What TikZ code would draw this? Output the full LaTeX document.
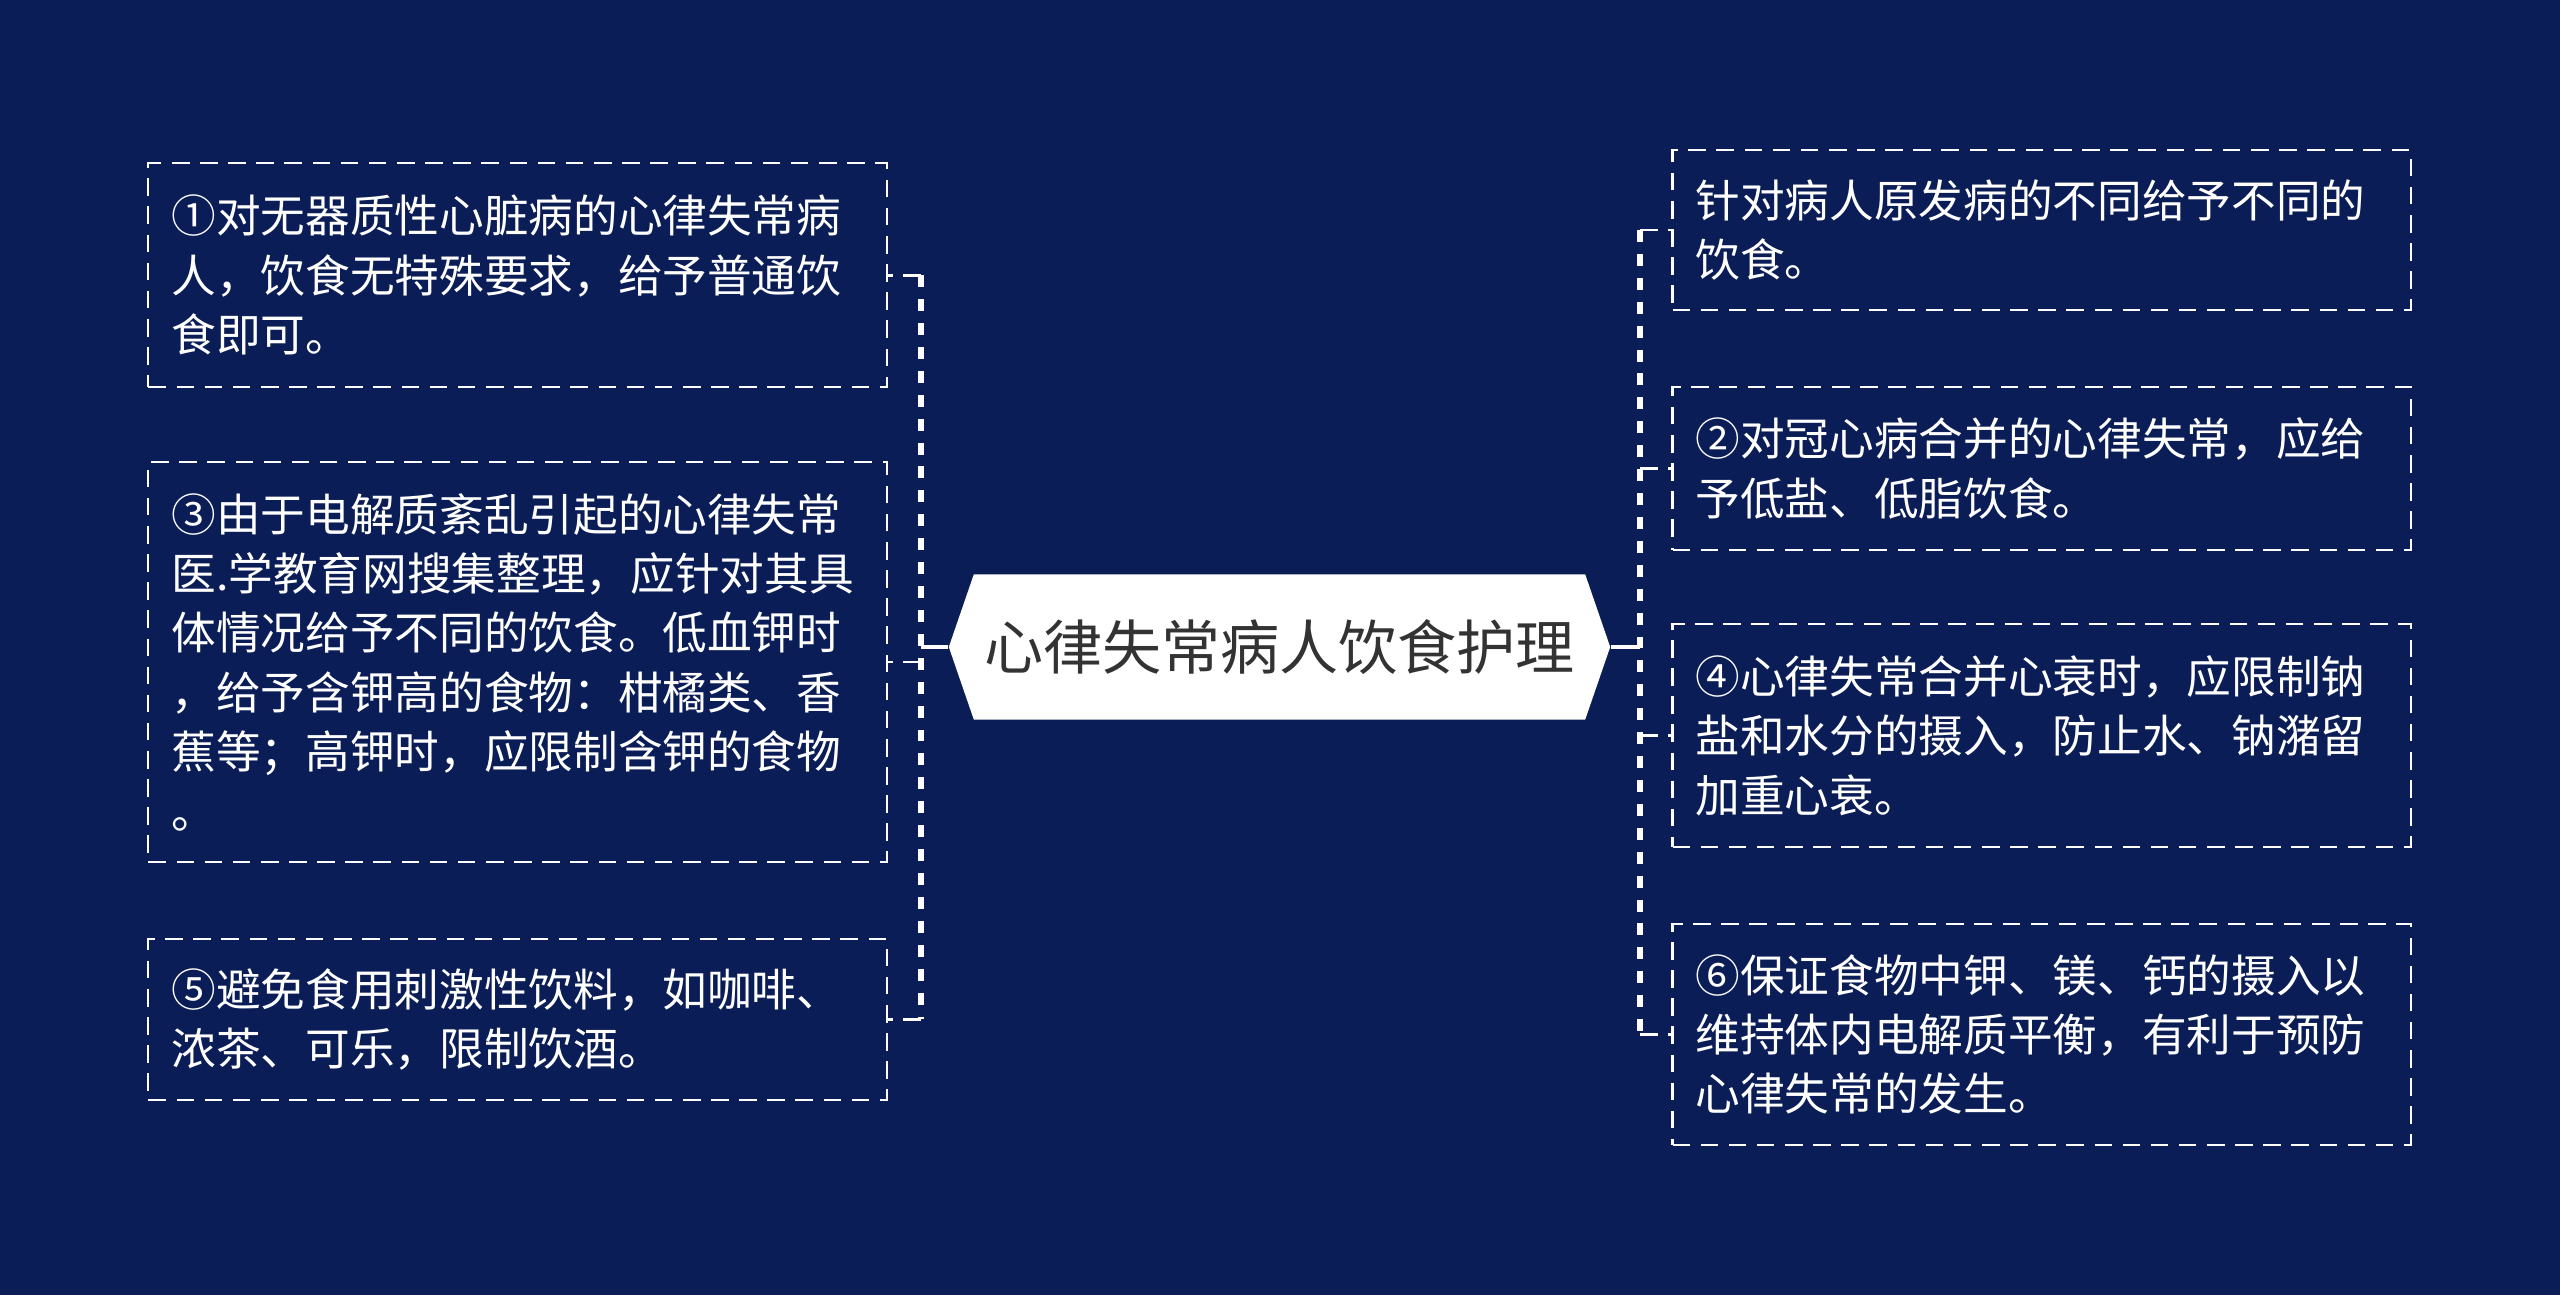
\documentclass[tikz,border=0pt]{standalone}
\usepackage{fontspec}
\setmainfont{Noto Sans CJK SC}
\usepackage{tikz}
\usetikzlibrary{shapes.symbols}

\definecolor{navy}{RGB}{11,29,86}
\definecolor{titlegray}{RGB}{51,51,51}

\tikzset{
  note/.style={draw=white, line width=0.6pt, dash pattern=on 5pt off 3pt,
    text=white, minimum width=7.38cm, text width=6.92cm, inner xsep=0.23cm,
    align=left, font=\fontsize{12.7}{16.9}\selectfont},
  hub/.style={shape=signal, signal to=east and west, signal pointer angle=142,
    fill=white, text=titlegray, minimum width=6.61cm, minimum height=1.45cm,
    inner sep=0pt, font=\fontsize{16.8}{20}\selectfont},
  trunk/.style={white, line width=1pt},
  bus/.style={white, line width=1.7pt, dash pattern=on 3.4pt off 3.4pt},
  twig/.style={white, line width=0.8pt, dash pattern=on 5pt off 3pt}
}

\begin{document}
\begin{tikzpicture}[x=0.01cm,y=-0.01cm]
% background
\fill[navy] (0,0) rectangle (2560,1295);
\useasboundingbox (0,0) rectangle (2560,1295);

% the title
\node[hub] (title) at (1279.5,647) {心律失常病人饮食护理};

% left notes
\node[note, minimum height=2.24cm] (b1) at (517.6,275.2)
  {①对无器质性心脏病的心律失常病\\人，饮食无特殊要求，给予普通饮\\食即可。};
\node[note, minimum height=4.0cm] (b3) at (517.6,662)
  {③由于电解质紊乱引起的心律失常\\医.学教育网搜集整理，应针对其具\\体情况给予不同的饮食。低血钾时\\，给予含钾高的食物：柑橘类、香\\蕉等；高钾时，应限制含钾的食物\\。};
\node[note, minimum height=1.61cm] (b5) at (517.6,1019.5)
  {⑤避免食用刺激性饮料，如咖啡、\\浓茶、可乐，限制饮酒。};

% right notes
\node[note, minimum height=1.6cm] (r1) at (2041.7,230)
  {针对病人原发病的不同给予不同的\\饮食。};
\node[note, minimum height=1.63cm] (r2) at (2041.7,468.5)
  {②对冠心病合并的心律失常，应给\\予低盐、低脂饮食。};
\node[note, minimum height=2.23cm] (r4) at (2041.7,735.5)
  {④心律失常合并心衰时，应限制钠\\盐和水分的摄入，防止水、钠潴留\\加重心衰。};
\node[note, minimum height=2.21cm] (r6) at (2041.7,1034.5)
  {⑥保证食物中钾、镁、钙的摄入以\\维持体内电解质平衡，有利于预防\\心律失常的发生。};

% left branch
\coordinate (lbus) at (921,647);
\draw[trunk] (title.west) -- (lbus);
\draw[bus] (lbus |- b1.east) -- (lbus |- b5.east);
\foreach \n in {b1,b3,b5}
  \draw[twig] (lbus |- \n.east) -- (\n.east);

% right branch
\coordinate (rbus) at (1640,647);
\draw[trunk] (title.east) -- (rbus);
\draw[bus] (rbus |- r1.west) -- (rbus |- r6.west);
\foreach \n in {r1,r2,r4,r6}
  \draw[twig] (rbus |- \n.west) -- (\n.west);
\end{tikzpicture}
\end{document}
